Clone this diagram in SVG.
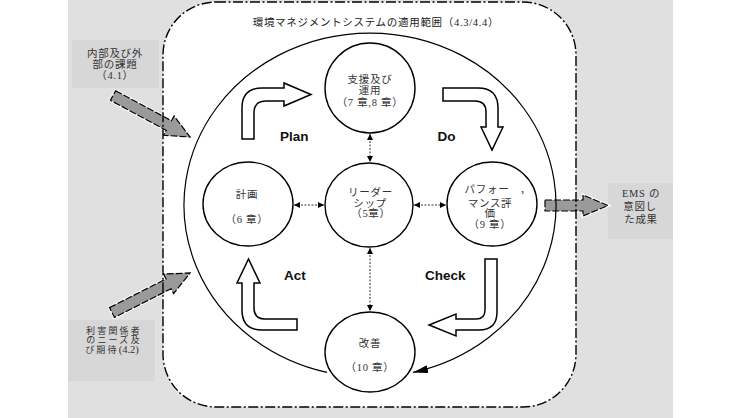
<svg xmlns="http://www.w3.org/2000/svg" xmlns:xlink="http://www.w3.org/1999/xlink" width="744" height="418" viewBox="0 0 744 418">
<style>
.jp{font-family:"Liberation Serif","Noto Sans CJK JP",serif;font-size:10.5px;letter-spacing:0.7px;fill:#333;text-anchor:middle}
.sm{font-size:9px;letter-spacing:2.2px}
.lat{font-size:10.5px;letter-spacing:0px}
.title{fill:#222}
.pd{font-family:"Liberation Sans",Arial,sans-serif;font-weight:bold;font-size:13.5px;fill:#111}
.node{fill:#fff;stroke:#000;stroke-width:1.4}
.box{fill:#d7d7d7}
.blk{fill:#fff;stroke:#000;stroke-width:1.5;stroke-linejoin:miter}
.gh{fill:none;stroke:#fff;stroke-width:3}
.ga{fill:#9a9a9a;stroke:#000;stroke-width:1.2;stroke-dasharray:7 2}
.dc{fill:none;stroke:#333;stroke-width:1;stroke-dasharray:2 1.5;marker-start:url(#ah);marker-end:url(#ah)}
</style>
<defs>
<marker id="ah" viewBox="0 0 6 6" refX="6" refY="3" markerWidth="6" markerHeight="6" markerUnits="userSpaceOnUse" orient="auto-start-reverse"><path d="M0,0 L6,3 L0,6 z" fill="#000"/></marker>
<marker id="big" viewBox="0 0 15 8" refX="15" refY="4" markerWidth="15" markerHeight="8" markerUnits="userSpaceOnUse" orient="auto"><path d="M0,0 L15,4 L0,8 z" fill="#000"/></marker>
<polygon id="g1" points="115.6,90.7 171.5,120.8 174.1,115.9 190,137 163.7,135.3 166.3,130.4 110.4,100.3"/>
<polygon id="g2" points="109.5,307.6 166.1,278.9 163.6,274 190,273 173.6,293.6 171.1,288.7 114.5,317.4"/>
<polygon id="g3" points="545,200 583,200 583,195 608,205.5 583,216 583,211 545,211"/>
</defs>
<rect x="68" y="0" width="605" height="418" fill="#e0e0e0"/>
<g id="scope">
<rect x="163" y="2" width="413" height="405" rx="53" ry="53" fill="#fff"/>
</g>
<g id="box-issues">
<rect class="box" x="72" y="40" width="87" height="48"/>
<text class="jp" x="115" y="57">内部及び外</text>
<text class="jp" x="115" y="68">部の課題</text>
<text class="jp" x="115" y="79">（4.1）</text>
</g>
<g id="box-needs">
<rect class="box" x="68" y="320" width="87" height="61"/>
<text class="jp sm" x="114" y="333.5">利害関係者</text>
<text class="jp sm" x="114" y="343">のニーズ及</text>
<text class="jp sm" x="112" y="352.5">び期待<tspan class="lat">(4.2)</tspan></text>
</g>
<g id="box-outcome">
<rect class="box" x="608" y="183" width="65" height="56"/>
<text class="jp" x="641" y="197">EMS の</text>
<text class="jp" x="640" y="210">意図し</text>
<text class="jp" x="641" y="223">た成果</text>
</g>
<g id="inputs">
<use xlink:href="#g1" class="gh"/><use xlink:href="#g1" class="ga"/>
<use xlink:href="#g2" class="gh"/><use xlink:href="#g2" class="ga"/>
<use xlink:href="#g3" class="gh"/><use xlink:href="#g3" class="ga"/>
</g>
<g id="scope-border">
<rect x="163" y="2" width="413" height="405" rx="53" ry="53" fill="none" stroke="#000" stroke-width="1.4" stroke-dasharray="10 2.5 2 2.5"/>
<text class="jp title" x="376" y="26">環境マネジメントシステムの適用範囲（4.3/4.4）</text>
</g>
<g id="connectors">
<path d="M327,372.4 A186,172 0 1 1 413,372.4" fill="none" stroke="#000" stroke-width="1.2" marker-end="url(#big)"/>
<line class="dc" x1="370" y1="134" x2="370" y2="162"/>
<line class="dc" x1="294" y1="205" x2="324" y2="205"/>
<line class="dc" x1="414" y1="205" x2="446" y2="205"/>
<line class="dc" x1="370" y1="248" x2="370" y2="311"/>
<path id="arrow-plan" class="blk" d="M242,139 L242,108 Q242,88 262,88 L284,88 L284,83 L311,94.5 L284,106 L284,101 L266,101 Q254,101 254,113 L254,139 Z"/>
<path id="arrow-do" class="blk" d="M443,88 L478,88 Q498,88 498,108 L498,127 L503,127 L492,150 L481,127 L486,127 L486,112 Q486,101 475,101 L443,101 Z"/>
<path id="arrow-check" class="blk" d="M485,259 L497,259 L497,312 Q497,330 479,330 L456,330 L456,336 L429,325 L456,314 L456,319 L476,319 Q485,319 485,310 Z"/>
<path id="arrow-act" class="blk" d="M242,283 L237,283 L248.5,259 L260,283 L254,283 L254,308 Q254,319 265,319 L297,319 L297,330 L262,330 Q242,330 242,310 Z"/>
</g>
<g id="labels">
<text class="pd" x="280" y="140.5">Plan</text>
<text class="pd" x="437.5" y="140.5">Do</text>
<text class="pd" x="284" y="279.5">Act</text>
<text class="pd" x="425" y="280">Check</text>
</g>
<g id="n-support">
<ellipse class="node" cx="370" cy="88" rx="45" ry="45"/>
<text class="jp" x="370" y="83">支援及び</text>
<text class="jp" x="370" y="94">運用</text>
<text class="jp" x="370" y="105.5">（7 章,8 章）</text>
</g>
<g id="n-plan">
<ellipse class="node" cx="248" cy="204" rx="45" ry="42"/>
<text class="jp" x="247" y="198">計画</text>
<text class="jp" x="247" y="223">（6 章）</text>
</g>
<g id="n-leadership">
<ellipse class="node" cx="369" cy="205" rx="44" ry="42"/>
<text class="jp" x="370.5" y="196">リーダー</text>
<text class="jp" x="370" y="207">シップ</text>
<text class="jp" x="371" y="217">（5章）</text>
</g>
<g id="n-performance">
<ellipse class="node" cx="492" cy="204" rx="45" ry="42"/>
<text class="jp" x="487" y="193">パフォー</text>
<text class="jp" x="523" y="192" style="font-size:13px">,</text>
<text class="jp" x="490" y="207">マンス評</text>
<text class="jp" x="490" y="217">価</text>
<text class="jp" x="490" y="228">（9 章）</text>
</g>
<g id="n-improvement">
<ellipse class="node" cx="370" cy="352" rx="45" ry="40"/>
<text class="jp" x="370" y="347">改善</text>
<text class="jp" x="370" y="371">（10 章）</text>
</g>
</svg>
